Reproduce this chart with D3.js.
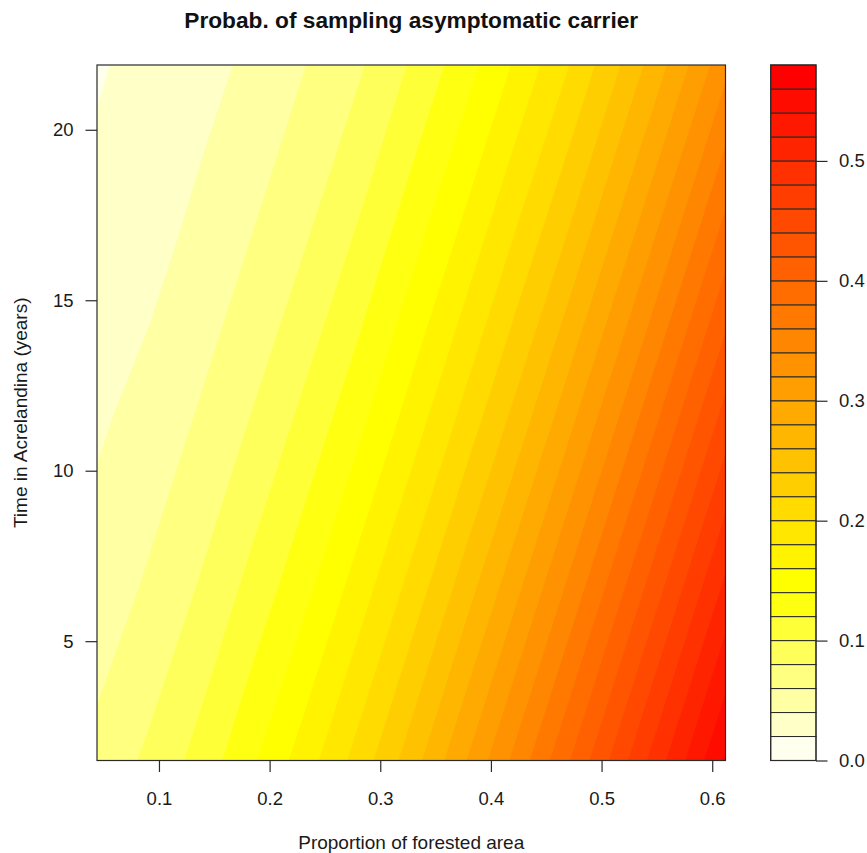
<!DOCTYPE html>
<html>
<head>
<meta charset="utf-8">
<script src="https://cdn.jsdelivr.net/npm/d3@7"></script>
<style>
    body { margin: 0; background: #fff; }
    text { font-family: "Liberation Sans", Arial, Helvetica, sans-serif; }
</style>
</head>
<body>
<div id="chart"></div>
<script>
// grid columns (proportion of forested area) and rows (years in Acrelandina)
var forest = [0.044, 0.0913, 0.1387, 0.186, 0.2333, 0.2807, 0.328, 0.3753, 0.4227, 0.47, 0.5173, 0.5647, 0.612]
var years = [1.5, 6.6, 11.7, 16.8, 21.9]

// probability, one row per year (bottom to top)
var prob_1_5  = [0.066, 0.084, 0.108, 0.138, 0.171, 0.208, 0.250, 0.297, 0.346, 0.398, 0.452, 0.507, 0.562]
var prob_6_6  = [0.047, 0.063, 0.082, 0.107, 0.135, 0.169, 0.206, 0.248, 0.294, 0.343, 0.395, 0.449, 0.504]
var prob_11_7 = [0.037, 0.046, 0.062, 0.081, 0.105, 0.133, 0.167, 0.204, 0.245, 0.291, 0.340, 0.392, 0.446]
var prob_16_8 = [0.026, 0.034, 0.045, 0.061, 0.079, 0.103, 0.132, 0.165, 0.202, 0.242, 0.288, 0.337, 0.389]
var prob_21_9 = [0.018, 0.026, 0.034, 0.044, 0.060, 0.077, 0.102, 0.130, 0.163, 0.199, 0.240, 0.285, 0.334]

// contour levels and tick labels
var levels = [0, 0.02, 0.04, 0.06, 0.08, 0.1, 0.12, 0.14, 0.16, 0.18, 0.2, 0.22, 0.24, 0.26, 0.28,
    0.3, 0.32, 0.34, 0.36, 0.38, 0.4, 0.42, 0.44, 0.46, 0.48, 0.5, 0.52, 0.54, 0.56, 0.58]
var xTicks = [0.1, 0.2, 0.3, 0.4, 0.5, 0.6]
var yTicks = [5, 10, 15, 20]
var keyTicks = [0, 0.1, 0.2, 0.3, 0.4, 0.5]

// same as rev(heat.colors(n)) in R
function heatColors(n) {
    var j = Math.floor(n / 4), i = n - j, out = []
    for (var k = 0; k < i; k++) {
        var g = Math.round(255 * k / (i - 1))
        out.push(d3.rgb(255, g, 0).formatHex())
    }
    for (var k = 0; k < j; k++) {
        var s = (1 - 1 / (2 * j)) - k * ((1 - 1 / j) / (j - 1))
        out.push(d3.rgb(255, 255, Math.round(255 * (1 - s))).formatHex())
    }
    return out.reverse()
}

var width = 867, height = 853
var plot = { left: 97, right: 725.5, top: 65, bottom: 760.5 }
var key = { left: 770.7, right: 816 }
var ink = "#2a2a2a"

var svg = d3.select("#chart").append("svg")
    .attr("width", width)
    .attr("height", height)

var x = d3.scaleLinear().domain([forest[0], forest[forest.length - 1]]).range([plot.left, plot.right])
var y = d3.scaleLinear().domain([years[0], years[years.length - 1]]).range([plot.bottom, plot.top])

var bands = levels.slice(0, -1)
var cols = heatColors(bands.length)

// flatten the rows for d3.contours (row 0 = first year)
var rows = [prob_1_5, prob_6_6, prob_11_7, prob_16_8, prob_21_9]
var values = []
rows.forEach(function(r) { r.forEach(function(v) { values.push(v) }) })

var contours = d3.contours()
    .size([forest.length, years.length])
    .thresholds(bands)(values)

// grid coords -> data: value i sits at i + 0.5
var gx = d3.scaleLinear().domain([0.5, forest.length - 0.5]).range([forest[0], forest[forest.length - 1]])
var gy = d3.scaleLinear().domain([0.5, years.length - 0.5]).range([years[0], years[years.length - 1]])
var proj = d3.geoTransform({
    point: function(px, py) { this.stream.point(x(gx(px)), y(gy(py))) }
})
var path = d3.geoPath(proj)

svg.append("clipPath").attr("id", "plot-clip")
    .append("rect")
    .attr("x", plot.left).attr("y", plot.top)
    .attr("width", plot.right - plot.left)
    .attr("height", plot.bottom - plot.top)

svg.append("g")
    .attr("clip-path", "url(#plot-clip)")
    .selectAll("path")
    .data(contours)
    .enter().append("path")
    .attr("d", path)
    .attr("fill", function(d, i) { return cols[i] })
    .attr("stroke", function(d, i) { return cols[i] })
    .attr("stroke-width", 0.6)

svg.append("rect")
    .attr("x", plot.left).attr("y", plot.top)
    .attr("width", plot.right - plot.left)
    .attr("height", plot.bottom - plot.top)
    .attr("fill", "none")
    .attr("stroke", ink)
    .attr("stroke-width", 1.2)

// axes
function styleAxis(g) {
    g.select(".domain").remove()
    g.selectAll(".tick line").attr("stroke", ink).attr("stroke-width", 1.2)
    g.selectAll(".tick text")
        .attr("fill", "#1a1a1a")
        .style("font-size", "18.5px")
        .style("font-family", '"Liberation Sans", Arial, sans-serif')
}

svg.append("g")
    .attr("transform", "translate(0," + plot.bottom + ")")
    .call(d3.axisBottom(x).tickValues(xTicks).tickSize(11.5).tickPadding(19.5).tickFormat(d3.format(".1f")))
    .call(styleAxis)

svg.append("g")
    .attr("transform", "translate(" + plot.left + ",0)")
    .call(d3.axisLeft(y).tickValues(yTicks).tickSize(11.5).tickPadding(12).tickFormat(d3.format("d")))
    .call(styleAxis)

// colour key
var yKey = d3.scaleLinear().domain([levels[0], levels[levels.length - 1]]).range([plot.bottom, plot.top])

svg.append("g")
    .selectAll("rect")
    .data(bands)
    .enter().append("rect")
    .attr("x", key.left)
    .attr("y", function(d, i) { return yKey(levels[i + 1]) })
    .attr("width", key.right - key.left)
    .attr("height", function(d, i) { return yKey(levels[i]) - yKey(levels[i + 1]) })
    .attr("fill", function(d, i) { return cols[i] })
    .attr("stroke", ink)
    .attr("stroke-width", 1)

svg.append("rect")
    .attr("x", key.left).attr("y", plot.top)
    .attr("width", key.right - key.left)
    .attr("height", plot.bottom - plot.top)
    .attr("fill", "none")
    .attr("stroke", ink)
    .attr("stroke-width", 1.2)

svg.append("g")
    .attr("transform", "translate(" + key.right + ",0)")
    .call(d3.axisRight(yKey).tickValues(keyTicks).tickSize(11.5).tickPadding(11.5).tickFormat(d3.format(".1f")))
    .call(styleAxis)

// titles
svg.append("text")
    .attr("x", (plot.left + plot.right) / 2)
    .attr("y", 28)
    .attr("text-anchor", "middle")
    .style("font-size", "22.7px")
    .style("font-weight", "bold")
    .attr("fill", "#111")
    .text("Probab. of sampling asymptomatic carrier")

svg.append("text")
    .attr("x", (plot.left + plot.right) / 2)
    .attr("y", 849)
    .attr("text-anchor", "middle")
    .style("font-size", "19px")
    .attr("fill", "#1a1a1a")
    .text("Proportion of forested area")

svg.append("text")
    .attr("transform", "translate(27," + (plot.top + plot.bottom) / 2 + ") rotate(-90)")
    .attr("text-anchor", "middle")
    .style("font-size", "19px")
    .attr("fill", "#1a1a1a")
    .text("Time in Acrelandina (years)")
</script>
</body>
</html>
